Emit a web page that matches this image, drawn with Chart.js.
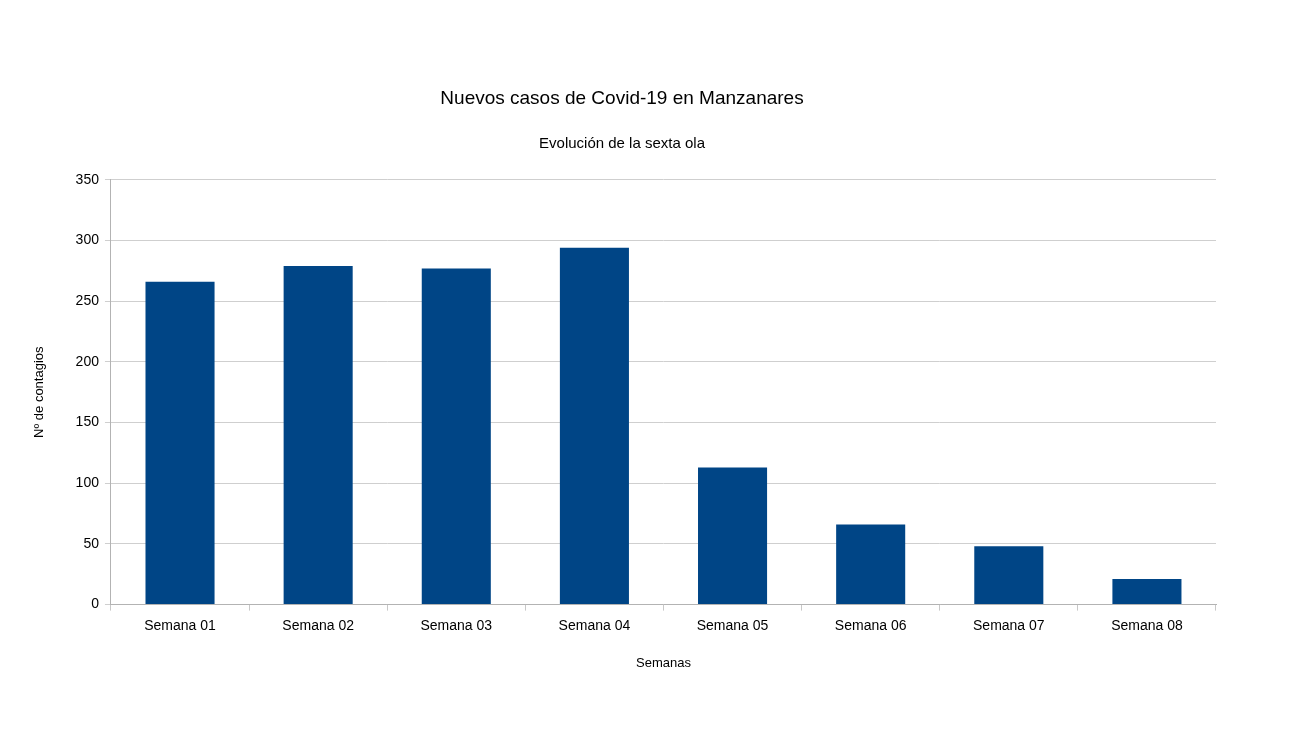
<!DOCTYPE html>
<html><head><meta charset="utf-8">
<script src="https://cdn.jsdelivr.net/npm/chart.js@4"></script>
<style>html,body{margin:0;background:#fff}#w{width:1306px;height:733px}</style>
</head><body><div id="w"><canvas id="c"></canvas></div>
<script>
const categories = ["Semana 01","Semana 02","Semana 03","Semana 04","Semana 05","Semana 06","Semana 07","Semana 08"];
const casos = [266, 279, 277, 294, 113, 66, 48, 21];
new Chart(document.getElementById('c'), {
  type: 'bar',
  data: { labels: categories, datasets: [{ data: casos, backgroundColor: '#004586', barPercentage: 0.5, categoryPercentage: 1 }] },
  options: {
    responsive: true, maintainAspectRatio: false, animation: false,
    layout: { padding: { left: 28, right: 90, top: 87, bottom: 58 } },
    plugins: {
      legend: { display: false }, tooltip: { enabled: false },
      title: { display: true, text: 'Nuevos casos de Covid-19 en Manzanares', color: '#000', font: { family: 'Liberation Sans', size: 19, weight: 'normal' }, padding: { bottom: 25 } },
      subtitle: { display: true, text: 'Evolución de la sexta ola', color: '#000', font: { family: 'Liberation Sans', size: 15 }, padding: { bottom: 27 } }
    },
    scales: {
      x: {
        grid: { display: true, drawOnChartArea: false, color: '#c8c8c8', tickLength: 6 },
        border: { color: '#b3b3b3' },
        ticks: { color: '#000', font: { family: 'Liberation Sans', size: 14 }, padding: 7 },
        title: { display: true, text: 'Semanas', color: '#000', font: { family: 'Liberation Sans', size: 13 }, padding: { top: 14 } }
      },
      y: {
        min: 0, max: 350,
        grid: { color: '#cfcfcf', tickLength: 6 },
        border: { color: '#b3b3b3' },
        ticks: { stepSize: 50, color: '#000', font: { family: 'Liberation Sans', size: 14 }, padding: 6 },
        title: { display: true, text: 'Nº de contagios', color: '#000', font: { family: 'Liberation Sans', size: 13 }, padding: { bottom: 22 } }
      }
    }
  }
});
</script></body></html>
